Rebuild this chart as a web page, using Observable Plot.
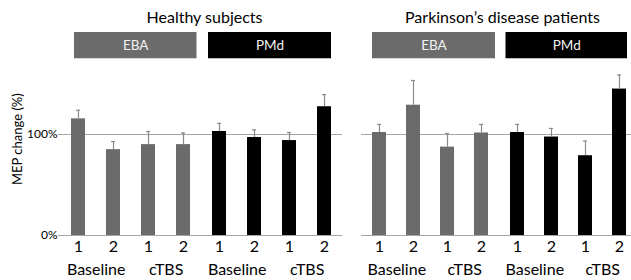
<!DOCTYPE html>
<html>
<head>
<meta charset="utf-8">
<script src="https://cdn.jsdelivr.net/npm/d3@7"></script>
<script src="https://cdn.jsdelivr.net/npm/@observablehq/plot@0.6"></script>
<style>
  body { margin: 0; background: #fff; }
  #chart { width: 631px; height: 280px; overflow: hidden; display: flex; background: #fff; }
  #chart svg { flex: none; }
</style>
</head>
<body>
<div id="chart"></div>
<script>
// ---- data ----
const panels = ["Healthy subjects", "Parkinson’s disease patients"];
const groups = ["EBA", "PMd"];
const conditions = ["Baseline 1", "Baseline 2", "cTBS 1", "cTBS 2"];
const phases = ["Baseline", "cTBS"];
const yTicks = [0, 100];
const yLabel = "MEP change (%)";

const healthyEBA = [115.5, 85, 90, 90];
const healthyEBAErr = [8.5, 8, 13, 11.5];
const healthyPMd = [103, 97, 94, 127.5];
const healthyPMdErr = [8, 7.5, 8, 12];

const parkinsonEBA = [102, 129, 87.5, 101.5];
const parkinsonEBAErr = [8, 24.5, 13.5, 8.5];
const parkinsonPMd = [102, 97.5, 79, 145];
const parkinsonPMdErr = [8, 8.5, 14.5, 14];

// ---- styling ----
const groupColors = ["#6b6b6b", "#000000"];
const lineGray = "#a6a6a6";
const errGray = "#8a8a8a";
const font = "Lato, 'Open Sans', sans-serif";
const yTop = 201;          // top of the drawing area (value units)
const headerBand = [175, 201];

function panel({title, means, errs, width, marginLeft, showY, insets}) {
  const rows = [];
  groups.forEach((g, gi) => conditions.forEach((c, ci) =>
    rows.push({group: g, cond: c, mean: means[gi][ci], err: errs[gi][ci]})));
  const step = (width - marginLeft) / groups.length / conditions.length;
  const phaseRows = [];
  groups.forEach(g => phases.forEach(p => phaseRows.push({group: g, cond: p + " 1", label: p})));
  const marks = [
    Plot.ruleY(yTicks, {stroke: lineGray, strokeWidth: 1}),
    Plot.barY(rows, {fx: "group", x: "cond", y: "mean", fill: "group"}),
    Plot.ruleX(rows, {fx: "group", x: "cond", y1: "mean", y2: d => d.mean + d.err, stroke: errGray, strokeWidth: 1.2}),
    Plot.tickY(rows, {fx: "group", x: "cond", y: d => d.mean + d.err, stroke: errGray, strokeWidth: 1.2, insetLeft: 5, insetRight: 5}),
    ...groups.map((g, i) => Plot.rect([{group: g, y1: headerBand[0], y2: headerBand[1]}], {
      fx: "group", y1: "y1", y2: "y2", fill: groupColors[i],
      insetLeft: insets[i][0], insetRight: insets[i][1]
    })),
    ...groups.map((g, i) => Plot.text([{group: g, y: d3.mean(headerBand)}], {
      fx: "group", y: "y", text: "group", fill: "#f2f2f2", fontSize: 13.5,
      dx: (insets[i][0] - insets[i][1]) / 2, lineAnchor: "middle"
    })),
    Plot.text([{group: groups[0], t: title}], {
      fx: "group", text: "t", frameAnchor: "top-right", textAnchor: "middle",
      lineAnchor: "middle", dy: -15, dx: 3, fontSize: 16
    }),
    Plot.axisX({tickSize: 0, tickPadding: 5, tickFormat: d => d.split(" ")[1], fontSize: 16, label: null}),
    Plot.text(phaseRows, {
      fx: "group", x: "cond", text: "label", frameAnchor: "bottom",
      lineAnchor: "top", dy: 28, dx: step / 2, fontSize: 16
    })
  ];
  if (showY) {
    marks.push(Plot.axisY(yTicks, {tickFormat: d => d + "%", tickSize: 2, tickPadding: 1, fontSize: 12, stroke: lineGray, label: null}));
    marks.push(Plot.text([{group: groups[0], t: yLabel, y: d3.mean(yTicks)}], {
      fx: "group", text: "t", y: "y", frameAnchor: "left", rotate: -90, dx: -43, fontSize: 13
    }));
  }
  const yScale = {domain: [0, yTop], label: null};
  if (!showY) yScale.axis = null;
  return Plot.plot({
    width, height: 280,
    marginLeft, marginRight: 0, marginTop: 32, marginBottom: 45,
    style: {fontFamily: font, color: "#000", background: "transparent", overflow: "visible"},
    fx: {domain: groups, padding: 0, axis: null, label: null},
    x: {domain: conditions, paddingInner: 0.6, paddingOuter: 0.3, label: null},
    y: yScale,
    color: {domain: groups, range: groupColors},
    marks
  });
}

const chart = document.getElementById("chart");
const left = panel({
  title: panels[0], means: [healthyEBA, healthyPMd], errs: [healthyEBAErr, healthyPMdErr],
  width: 342, marginLeft: 59, showY: true, insets: [[14, 4.5], [7, 11]]
});
const right = panel({
  title: panels[1], means: [parkinsonEBA, parkinsonPMd], errs: [parkinsonEBAErr, parkinsonPMdErr],
  width: 295, marginLeft: 18, showY: false, insets: [[11, 4], [6.5, 10]]
});
left.style.overflow = "hidden";
chart.append(left, right);
</script>
</body>
</html>
